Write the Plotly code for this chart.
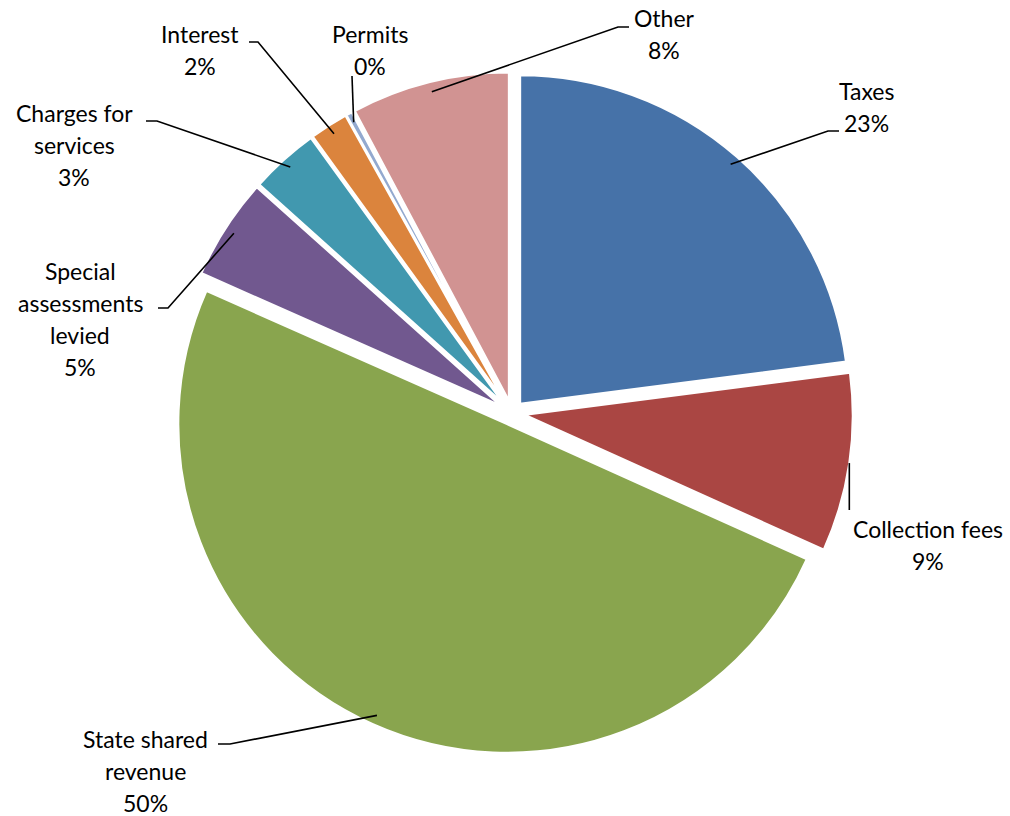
import math
import plotly.graph_objects as go

# ---- data ----
categories = ["Taxes", "Collection fees", "State shared revenue", "Special assessments levied",
              "Charges for services", "Interest", "Permits", "Other"]
values = [23.0, 8.8, 50.0, 5.0, 3.4, 1.9, 0.3, 7.8]
label_lines = [["Taxes"], ["Collection fees"], ["State shared", "revenue"],
               ["Special", "assessments", "levied"], ["Charges for", "services"],
               ["Interest"], ["Permits"], ["Other"]]
colors = ["#4672A8", "#AA4643", "#89A54E", "#71588F", "#4198AF", "#DB843D", "#93A9CF", "#D19392"]

# ---- layout geometry (pixels) ----
W, H = 1010, 816
CX, CY = 512, 413
R = 329
PULL = 0.0365
BOX = 2 * R * (1 + PULL)
FONT = dict(family="Lato, Carlito, Calibri, sans-serif", size=23, color="black")
LINE_GAP = 32

# label placement: (elbow point, end point, label center x, first line middle y, vertical leader)
label_layout = [
    ((828, 131), (839, 131), 866, 91, False),
    ((849, 510), (849, 510), 928, 529, True),
    ((230, 744), (218, 744), 145, 739, False),
    ((168, 308), (158, 308), 80, 271, False),
    ((157, 121), (146, 121), 74, 113, False),
    ((258, 42), (249, 42), 200, 34, False),
    ((352, 76), (352, 76), 370, 34, False),
    ((618, 27), (629, 27), 664, 18, False),
]


def px(x):
    return x / W


def py(y):
    return 1 - y / H


fig = go.Figure(go.Pie(
    labels=categories, values=values, sort=False, direction="clockwise", rotation=0,
    marker=dict(colors=colors, line=dict(color="white", width=2.5)),
    pull=[PULL] * len(values), textinfo="none", hoverinfo="label+percent",
    showlegend=False,
    domain=dict(x=[px(CX - BOX / 2), px(CX + BOX / 2)], y=[py(CY + BOX / 2), py(CY - BOX / 2)]),
))

total = sum(values)
cum = 0.0
shapes = []
annotations = []
for v, lines, (elbow, end, lx, ly, vert) in zip(values, label_lines, label_layout):
    theta = math.radians((cum + v / 2) / total * 360)
    cum += v
    ux, uy = math.sin(theta), -math.cos(theta)
    k = 1.0 if vert else 0.97
    sx = CX + PULL * R * ux + k * R * ux
    sy = CY + PULL * R * uy + k * R * uy
    if vert:
        elbow = (sx, elbow[1])
        end = elbow
    path = f"M {px(sx)},{py(sy)} L {px(elbow[0])},{py(elbow[1])} L {px(end[0])},{py(end[1])}"
    shapes.append(dict(type="path", xref="paper", yref="paper", path=path,
                       line=dict(color="black", width=1.6)))
    pct = round(v / total * 100)
    for i, t in enumerate(lines + [f"{pct}%"]):
        annotations.append(dict(x=px(lx), y=py(ly + i * LINE_GAP), xref="paper", yref="paper",
                                text=t, showarrow=False, xanchor="center", yanchor="middle",
                                font=FONT))

fig.update_layout(width=W, height=H, margin=dict(l=0, r=0, t=0, b=0),
                  paper_bgcolor="white", plot_bgcolor="white",
                  shapes=shapes, annotations=annotations)
fig.write_html("out.html")
